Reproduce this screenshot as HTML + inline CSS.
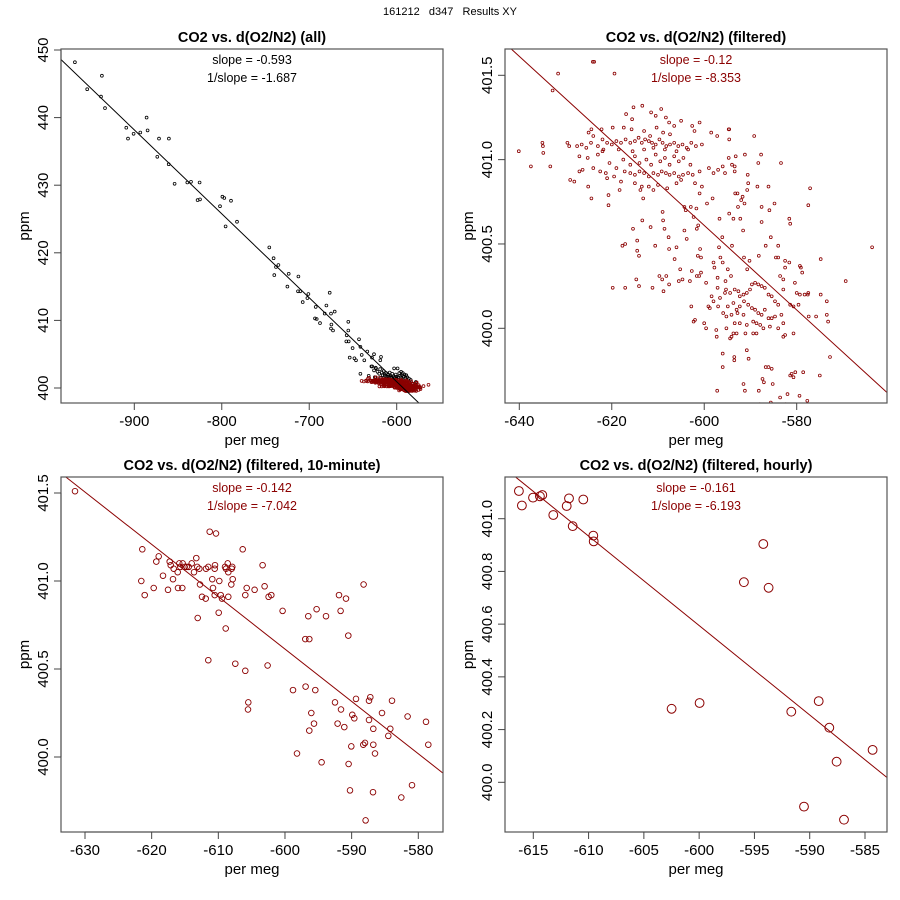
<!DOCTYPE html>
<html><head><meta charset="utf-8"><style>
body{margin:0;background:#fff;}
svg{display:block;font-family:"Liberation Sans",sans-serif;}
</style></head><body>
<svg id="chart" width="900" height="900" viewBox="0 0 900 900" xmlns="http://www.w3.org/2000/svg">
<rect width="900" height="900" fill="#fff"/>
<text x="450" y="15" font-size="11" text-anchor="middle" fill="#000" xml:space="preserve">161212   d347   Results XY</text>
</svg>
<script>
// ---- Panel 1 (all) black points ----
const allX = [-967.9,-953.8,-937.0,-938.1,-933.5,-909.1,-907.2,-900.8,-893.1,-885.9,-884.8,-871.8,-860.4,-873.7,-860.7,-853.9,-839.4,-835.2,-825.3,-827.6,-824.9,-802.0,-799.3,-797.1,-789.5,-795.6,-782.6,-745.6,-740.7,-739.9,-738.0,-735.3,-723.5,-725.0,-712.4,-712.8,-710.2,-707.5,-701.0,-702.1,-692.6,-680.4,-682.3,-676.6,-675.1,-670.9,-693.4,-691.5,-687.7,-674.7,-675.1,-672.8,-655.3,-655.3,-657.2,-657.6,-654.9,-643.1,-641.5,-653.7,-650.4,-648.4,-646.5,-640.0,-637.0,-633.6,-628.2,-626.0,-618.0,-618.7,-641.5,-628.9,-623.6,
-628,-626,-624,-622,-620,-619,-617,-616,-615,-614,-613,-612,-611,-610,-609,-608,-607,-606,-605,-604,-603,-602,-601,-600,-599,-598,-597,-596,-595,-594,-593,-592,-591,-590,-589,-588,-586,-584,-582,-578,-632,-625,-618,-610,-604,-600,-594];
const allY = [448.2,444.2,446.2,443.1,441.4,438.5,436.9,437.6,437.8,440.0,438.1,436.9,436.9,434.2,433.1,430.2,430.4,430.5,430.4,427.8,427.9,426.9,428.3,428.1,427.7,423.9,424.6,420.8,419.2,416.7,417.9,418.2,416.9,415.0,416.5,414.3,414.3,412.7,413.9,413.3,412.0,412.2,411.0,414.1,411.0,411.3,410.3,410.2,409.6,409.4,408.8,408.5,409.8,408.5,407.8,406.9,406.9,407.2,406.1,404.5,405.9,404.4,404.1,404.9,404.1,405.4,404.5,405.0,404.6,404.1,402.1,403.2,402.9,
403.2,402.6,403.0,402.4,402.1,402.8,402.3,401.9,402.5,402.0,401.8,402.2,401.7,402.0,401.6,402.3,401.8,401.6,402.1,401.7,402.9,401.6,402.0,401.7,402.9,401.6,402.2,401.8,402.4,401.9,402.2,401.7,402.0,401.5,401.9,401.6,401.4,401.2,400.6,400.9,401.8,401.6,401.5,401.4,401.3,401.4,401.3];
// fitted line endpoints (x, y)
const allLineX = [-983.9, -574.0];
const allLineY = [448.6, 397.7];

// ---- Panel 2 (filtered) ----
const filtX = [-640.1,-637.5,-635.0,-634.9,-634.8,-633.3,-632.8,-631.6,-629.6,-629.2,-629.0,-628.1,-627.0,-627.0,-626.3,-625.1,-624.4,-625.2,-624.1,-623.8,-619.4,-620.7,-620.7,-621.8,-621.3,-618.3,-617.7,-617.1,-619.8,-617.1,-615.4,-614.5,-614.5,-614.1,-614.7,-614.1,-611.2,-613.4,-613.2,-613.8,
-611.6,-610.6,-609.7,-609.1,-608.8,-608.2,-607.6,-609.0,-608.9,-608.6,-607.7,-607.6,-606.4,-606.0,-605.2,-605.5,-604.7,-604.3,-603.8,-604.3,-604.0,
-603.1,-602.7,-602.8,-602.3,-602.0,-602.9,-602.3,-601.6,-601.3,-601.7,-600.9,-601.4,-600.7,-601.6,-601.1,-600.7,
-600,-599.6,-599.6,-599.4,-598.2,-598.0,-597.8,-597.4,-597.3,-597.2,-597.1,-597.1,
-596.7,-596.8,-596.5,-596.1,-596.0,-596.0,-596.0,-595.4,-595.3,-594.9,-594.9,-594.6,-594.0,-594.2,-593.7,
-593.5,-593.5,-593.0,-593.4,-592.8,-592.7,-592.2,-592.0,-591.6,-591.4,-591.4,-591.1,-590.8,-590.7,-590.4,-590.2,
-591.5,-591.2,-589.8,-588.8,-588.0,-588.2,-587.4,-587.1,-586.7,-586.1,-585.4,-585.2,-585.6,-585.3,-583.6,-582.4,-582.0,-581.4,-581.1,-580.7,-580.3,-579.4,-577.7,-578.6,-575.0,-572.8,
-574.8,-573.5,-573.5,-573.2,-575.8,-574.8,-577.4,-577.6,-579.1,-578.8,-577.5,-577.1,-581.6,-581.4,-583.4,-569.4,-563.7,
-589.2,-587.7,-588.3,-590.5,-590.7,-588.5,-586.1,-584.8,-585.9,-587.6,-587.6,-591.3,-591.7,-592.8,-593.3,-594.7,-594.6,-594.7,-593.2,-593.4,-593.4,-591.2,-590.6,-585.6,-584.0,-586.7,-588.2,-584.5,-584.0,-582.5,-581.6,-582.5,-579.3,-580.4,-580.0,-579.3,-578.3,-577.5,-582.9,-581.4,-580.7,-579.6,-583.6,-582.9,
-598.4,-598.0,-596.6,-595.5,-594.4,-593.4,-592.6,-592.3,-591.5,-590.8,-590.1,-589.7,-589.0,-588.3,-587.6,-586.9,-586.1,-585.4,-584.7,-584.0,-590.5,-589.7,-589.0,-588.3,-587.6,-586.9,-586.1,-585.4,-584.7,-583.3,-591.5,-592.3,-590.8,-589.4,-588.7,-587.9,-587.2,-585.8,-589.4,-588.7,-593.7,-594.4,-594.1,-595.2,-593.0,-593.7,-592.3,-584.0,-582.9,-582.5,-580.7,-582.9,-597.0,-595.9,-595.2,-594.1,-599.1,-598.8,
-627.5,-626.5,-625.5,-624.5,-623,-622,-621,-620,-619,-618,-617,-616,-615,-614.2,-613.5,-612.8,-612,-611.3,-610.5,-609.7,-609,-608.2,-607.4,-606.5,-605.6,-604.7,-603.8,-602.8,-601.8,-600.5,
-622,-618.5,-615.5,-613,-611,-608.5,-606,-603.5,
-617.2,-616,-615,-614,-613,-612,-611,-610,-609.2,-608.3,-607.5,-606.5,-605.5,-604.6,-603.5,-602.5,
-623,-620.5,-619,-617.5,-616,-615,-614,-612.5,-611.5,-610.5,-609.5,-608.5,-607.5,-606.5,-605.5,-604.5,-603,-601,-599,-598,-597,-596,-595.5,-594,
-616.9,-615.3,-613.4,-611.5,-610.5,-609.3,-615.6,-613.0,-610.3,-608.3,-607.6,-606.5,-605.0,-602.6,-601.0,-602.1,-598.5,-597.2,-594.6,-615.7,-617.4,-619.8,-622.2,-624.4,-625.0,-624.0,-611.7,-608.9,-607.4,
-621,-622.5,-624,-619.5,-618,-612,-611,-610,-608,-606,-605,-602,-601,-600.5,-615,-613.5];
const filtY = [401.05,400.96,401.10,401.08,401.04,400.96,401.41,401.51,401.10,401.08,400.88,400.87,401.02,400.93,400.94,400.84,400.77,401.01,401.58,401.58,401.51,400.73,400.79,401.06,400.92,400.82,400.49,400.50,400.24,400.24,400.59,400.52,400.46,400.43,400.29,400.25,400.24,400.64,400.77,400.82,
400.60,400.49,400.31,400.29,400.22,400.31,400.26,400.69,400.64,400.59,400.54,400.47,400.41,400.48,400.35,400.28,400.29,400.58,400.53,400.72,400.70,
400.28,400.34,400.13,400.04,400.05,400.72,400.66,400.59,400.61,400.71,400.47,400.43,400.42,400.31,400.31,400.33,
400.03,400.0,400.27,400.74,400.77,400.39,400.36,399.99,399.95,399.63,400.30,400.24,
400.65,400.48,400.42,400.54,400.39,399.85,399.77,400.28,400.23,400.13,400.35,400.68,400.49,400.31,400.65,
399.81,399.83,399.97,400.03,400.09,400.72,400.65,400.76,400.58,400.42,400.16,399.97,399.87,400.35,399.82,400.40,
399.67,399.63,399.54,399.54,399.55,399.63,399.70,399.68,399.77,399.77,399.76,399.67,399.56,399.55,399.59,399.55,399.61,399.72,399.73,399.71,399.74,399.60,399.57,399.74,399.72,399.83,
400.41,400.16,400.08,400.04,400.07,400.20,400.07,400.20,400.36,400.33,400.73,400.83,400.65,400.62,400.98,400.28,400.48,
401.14,401.03,400.98,400.86,400.82,400.84,400.84,400.74,400.70,400.72,400.63,400.74,400.78,400.80,400.80,401.01,401.12,401.18,401.02,400.96,400.93,401.03,400.91,400.54,400.49,400.49,400.43,400.42,400.42,400.40,400.39,400.36,400.37,400.27,400.21,400.20,400.20,400.21,400.23,400.14,400.13,400.14,400.31,400.29,
400.19,400.16,400.18,400.21,400.21,400.23,400.22,400.19,400.20,400.21,400.23,400.26,400.27,400.26,400.25,400.24,400.20,400.19,400.16,400.14,400.14,400.12,400.11,400.09,400.08,400.11,400.06,400.06,400.07,400.08,400.08,400.03,400.02,400.04,400.03,400.02,400.00,400.01,399.97,399.97,399.97,399.94,399.95,400.00,400.11,400.15,400.13,400.00,400.03,399.96,399.97,399.95,400.13,400.09,400.07,400.08,400.13,400.12,
401.08,401.09,401.07,401.10,401.08,401.12,401.10,401.09,401.11,401.10,401.12,401.10,401.11,401.13,401.10,401.12,401.11,401.10,401.09,401.12,401.10,401.08,401.09,401.10,401.08,401.09,401.07,401.10,401.08,401.09,
401.05,401.06,401.05,401.06,401.07,401.06,401.05,401.06,
400.93,400.92,400.91,400.93,400.92,400.90,400.92,400.91,400.93,400.92,400.91,400.92,400.90,400.91,400.92,400.91,
401.03,400.98,400.95,401.0,400.97,401.02,400.98,401.0,400.97,401.03,400.99,401.01,400.97,401.02,400.99,401.01,400.97,400.93,400.95,400.92,400.94,400.96,400.92,400.97,
401.27,401.31,401.32,401.28,401.26,401.30,401.24,401.17,401.19,401.25,401.22,401.20,401.23,401.20,401.22,401.17,401.16,401.14,401.18,401.18,401.19,401.19,401.18,401.18,401.16,401.14,401.14,401.16,401.15,
400.89,400.93,400.95,400.90,400.87,400.84,400.82,400.85,400.83,400.86,400.88,400.86,400.80,400.84,400.86,400.84];
const filtLineX = [-641.9, -560.5];
const filtLineY = [401.66, 399.62];

// ---- Panel 3 (10-minute) ----
const tenX = [-631.5,-611.3,-610.35,-621.4,-606.35,-618.95,-619.3,-617.3,-617.15,-616.7,-616.1,-615.85,-615.7,-615.35,-615.05,-614.75,-614.45,-614.0,-613.65,-613.3,-613.15,-612.85,-611.85,-611.5,-610.5,-610.55,-609.0,-608.6,-608.85,-608.5,-607.9,-608.0,-603.35,-621.55,-618.3,-616.8,-610.9,-609.85,-607.85,-619.7,-617.55,-616.05,-615.4,-621.05,-612.75,-610.8,-608.05,-605.75,-604.55,-603.05,-605.95,-612.45,-611.9,-610.55,-609.65,-609.45,-608.5,-602.45,-602.05,-613.1,-609.95,-608.9,-600.35,-596.5,-595.25,-593.85,-591.9,-590.85,-591.65,-588.2,-590.5,-596.95,-596.35,-611.5,-607.45,-605.95,-602.6,-598.8,-596.9,-595.45,-605.5,-605.55,-592.5,-591.6,-589.35,-587.4,-587.2,-583.95,-585.45,-589.9,-589.6,-587.4,-581.6,-578.85,-596.05,-595.65,-596.35,-592.1,-591.1,-586.75,-584.2,-584.5,-590.05,-588.25,-588.0,-586.75,-586.5,-578.5,-598.2,-594.5,-590.45,-590.25,-586.8,-580.95,-582.55,-587.9];
const tenY = [401.51,401.28,401.27,401.18,401.18,401.14,401.11,401.11,401.09,401.07,401.05,401.10,401.08,401.10,401.08,401.08,401.08,401.10,401.05,401.13,401.08,401.07,401.07,401.08,401.09,401.07,401.08,401.10,401.07,401.05,401.08,401.07,401.09,401.0,401.03,401.01,401.01,401.0,401.01,400.96,400.95,400.96,400.96,400.92,400.98,400.96,400.98,400.96,400.95,400.97,400.92,400.91,400.90,400.92,400.92,400.90,400.91,400.91,400.92,400.79,400.82,400.73,400.83,400.80,400.84,400.80,400.92,400.90,400.83,400.98,400.69,400.67,400.67,400.55,400.53,400.49,400.52,400.38,400.40,400.38,400.31,400.27,400.31,400.27,400.33,400.32,400.34,400.32,400.25,400.24,400.22,400.21,400.23,400.20,400.25,400.19,400.15,400.19,400.17,400.16,400.16,400.12,400.06,400.07,400.08,400.07,400.02,400.07,400.02,399.97,399.96,399.81,399.80,399.84,399.77,399.64];
const tenLineX = [-632.85, -576.35];
const tenLineY = [401.59, 399.91];

// ---- Panel 4 (hourly) ----
const hourX = [-616.3,-616.03,-615.03,-614.4,-614.19,-611.77,-611.98,-610.48,-613.19,-611.44,-609.57,-609.54,-594.2,-595.95,-593.72,-602.49,-599.96,-591.67,-589.19,-588.23,-584.31,-587.57,-590.52,-586.9];
const hourY = [401.105,401.05,401.08,401.085,401.09,401.077,401.048,401.073,401.014,400.972,400.936,400.914,400.904,400.759,400.738,400.279,400.301,400.268,400.308,400.207,400.123,400.078,399.908,399.858];
const hourLineX = [-616.57, -583.04];
const hourLineY = [401.157, 400.019];

// ---- tick labels ----
const p1XTicks = [-900,-800,-700,-600];
const p1YTicks = [400,410,420,430,440,450];
const p2XTicks = [-640,-620,-600,-580];
const p2YTicks = ["400.0","400.5","401.0","401.5"];
const p3XTicks = [-630,-620,-610,-600,-590,-580];
const p3YTicks = ["400.0","400.5","401.0","401.5"];
const p4XTicks = [-615,-610,-605,-600,-595,-590,-585];
const p4YTicks = ["400.0","400.2","400.4","400.6","400.8","401.0"];

const NS = "http://www.w3.org/2000/svg";
const svg = document.getElementById("chart");
const RED = "#8b0000";

function mk(tag, attrs, parent) {
  const e = document.createElementNS(NS, tag);
  for (const k in attrs) e.setAttribute(k, attrs[k]);
  (parent || svg).appendChild(e);
  return e;
}
function lin(d0, d1, p0, p1) { return v => p0 + (v - d0) * (p1 - p0) / (d1 - d0); }

function panel(cfg) {
  const g = mk("g", {});
  
  
  const sx = lin(cfg.xd[0], cfg.xd[1], cfg.xp[0], cfg.xp[1]);
  const sy = lin(cfg.yd[0], cfg.yd[1], cfg.yp[0], cfg.yp[1]);
  const L = cfg.box[0], R = cfg.box[1], T = cfg.box[2], B = cfg.box[3];
  const cx = (L + R) / 2;
  // title
  const t = mk("text", {x: cx, y: T - 7, "font-size": 14.5, "font-weight": "bold", "text-anchor": "middle"}, g);
  t.textContent = cfg.title;
  
  
  // clip
  const cid = cfg.name + "-clip";
  const cp = mk("clipPath", {id: cid}, g);
  mk("rect", {x: L, y: T, width: R - L, height: B - T}, cp);
  const plot = mk("g", {"clip-path": "url(#" + cid + ")"}, g);
  
  
  // point series
  cfg.series.forEach(s => {
    const sg = mk("g", {fill: "none", stroke: s.color, "stroke-width": s.sw}, plot);
    
    
    for (let i = 0; i < s.x.length; i++) {
      const c = mk("circle", {cx: sx(s.x[i]).toFixed(1), cy: sy(s.y[i]).toFixed(1), r: s.r}, sg);
      
      
    }
  });
  // fit line
  const ln = mk("line", {x1: sx(cfg.lx[0]), y1: sy(cfg.ly[0]), x2: sx(cfg.lx[1]), y2: sy(cfg.ly[1]), stroke: cfg.lineColor, "stroke-width": 1}, plot);
  
  
  // box
  const bx = mk("rect", {x: L, y: T, width: R - L, height: B - T, fill: "none", stroke: "#555", "stroke-width": 1.2}, g);
  
  
  // slope texts
  const s1 = mk("text", {x: cx, y: T + 15, "font-size": 12.5, "text-anchor": "middle", fill: cfg.textColor}, g);
  s1.textContent = cfg.slope;
  
  
  const s2 = mk("text", {x: cx, y: T + 33, "font-size": 12.5, "text-anchor": "middle", fill: cfg.textColor}, g);
  s2.textContent = cfg.inv;
  
  
  // x axis
  const xa = mk("g", {}, g);
  
  
  const x0 = sx(cfg.xt[0]), x1 = sx(cfg.xt[cfg.xt.length - 1]);
  mk("line", {x1: x0, y1: B, x2: x1, y2: B, stroke: "#444"}, xa);
  cfg.xt.forEach(v => {
    const px = sx(+v);
    mk("line", {x1: px, y1: B, x2: px, y2: B + 7, stroke: "#444"}, xa);
    const tl = mk("text", {x: px, y: B + 23, "font-size": 15, "text-anchor": "middle"}, xa);
    tl.textContent = String(v);
    
    
  });
  const xl = mk("text", {x: cx, y: B + 42, "font-size": 15, "text-anchor": "middle"}, xa);
  xl.textContent = "per meg";
  
  
  // y axis
  const ya = mk("g", {}, g);
  
  
  const y0 = sy(+cfg.yt[0]), y1 = sy(+cfg.yt[cfg.yt.length - 1]);
  mk("line", {x1: L, y1: y0, x2: L, y2: y1, stroke: "#444"}, ya);
  cfg.yt.forEach(v => {
    const py = sy(+v);
    mk("line", {x1: L, y1: py, x2: L - 7, y2: py, stroke: "#444"}, ya);
    const tx = L - 13;
    const tl = mk("text", {x: tx, y: py, "font-size": 15, "text-anchor": "middle", transform: "rotate(-90 " + tx + " " + py + ")"}, ya);
    tl.textContent = String(v);
    
    
  });
  const yx = L - 32, yy = (T + B) / 2;
  const yl = mk("text", {x: yx, y: yy, "font-size": 15, "text-anchor": "middle", transform: "rotate(-90 " + yx + " " + yy + ")"}, ya);
  yl.textContent = "ppm";
  
  
}

panel({name: "panel-all", title: "CO2 vs. d(O2/N2) (all)", box: [61, 443, 49, 403],
  xd: [-900, -600], xp: [134.3, 396.7], yd: [450, 400], yp: [50, 388],
  series: [{name: "all-points", x: allX, y: allY, color: "#000", r: 1.4, sw: 0.8},
           {name: "filtered-points", x: filtX, y: filtY, color: RED, r: 1.4, sw: 0.8}],
  lx: allLineX, ly: allLineY, lineColor: "#000", textColor: "#000",
  slope: "slope = -0.593", inv: "1/slope = -1.687", xt: p1XTicks, yt: p1YTicks});

panel({name: "panel-filtered", title: "CO2 vs. d(O2/N2) (filtered)", box: [505, 887, 49, 403],
  xd: [-640, -580], xp: [519.3, 796.7], yd: [401.5, 400], yp: [75.3, 328.3],
  series: [{name: "filtered-points", x: filtX, y: filtY, color: RED, r: 1.4, sw: 0.8}],
  lx: filtLineX, ly: filtLineY, lineColor: RED, textColor: RED,
  slope: "slope = -0.12", inv: "1/slope = -8.353", xt: p2XTicks, yt: p2YTicks});

panel({name: "panel-10-minute", title: "CO2 vs. d(O2/N2) (filtered, 10-minute)", box: [61, 443, 477, 832],
  xd: [-630, -580], xp: [85, 418.3], yd: [401.5, 400], yp: [493, 757],
  series: [{name: "ten-minute-points", x: tenX, y: tenY, color: RED, r: 2.8, sw: 0.9}],
  lx: tenLineX, ly: tenLineY, lineColor: RED, textColor: RED,
  slope: "slope = -0.142", inv: "1/slope = -7.042", xt: p3XTicks, yt: p3YTicks});

panel({name: "panel-hourly", title: "CO2 vs. d(O2/N2) (filtered, hourly)", box: [505, 887, 477, 832],
  xd: [-615, -585], xp: [533.3, 865], yd: [401, 400], yp: [518.7, 782.3],
  series: [{name: "hourly-points", x: hourX, y: hourY, color: RED, r: 4.4, sw: 1}],
  lx: hourLineX, ly: hourLineY, lineColor: RED, textColor: RED,
  slope: "slope = -0.161", inv: "1/slope = -6.193", xt: p4XTicks, yt: p4YTicks});
</script>
</body></html>
